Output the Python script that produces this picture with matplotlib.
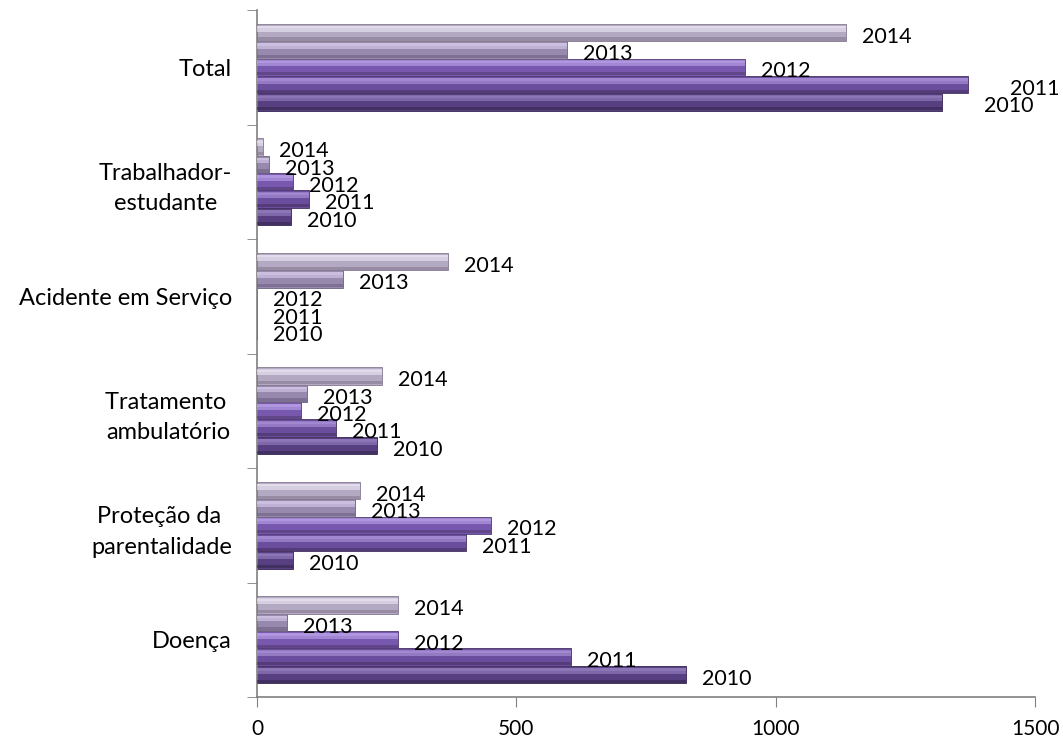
import matplotlib
matplotlib.use("Agg")
import matplotlib.pyplot as plt
import numpy as np

# categories from bottom to top
categories = ["Doença", "Proteção da \nparentalidade", "Tratamento \nambulatório",
              "Acidente em Serviço", "Trabalhador-\nestudante", "Total"]
years = ["2010", "2011", "2012", "2013", "2014"]

v2010 = [827, 70, 231, 0, 65, 1321]
v2011 = [605, 403, 152, 0, 100, 1371]
v2012 = [271, 451, 84, 0, 69, 941]
v2013 = [57, 189, 96, 166, 23, 598]
v2014 = [271, 199, 241, 368, 12, 1136]
series = [v2010, v2011, v2012, v2013, v2014]

base_colors = ["#573f82", "#6b4d9e", "#7858ae", "#9788ad", "#b3a9c2"]
light_colors = ["#9a84c4", "#b097dd", "#bea6ec", "#d9cdee", "#eee8f7"]
dark_colors = ["#35264f", "#46325f", "#523d72", "#6d6180", "#85798f"]

plt.rcParams['font.family'] = ['Lato', 'DejaVu Sans']

fig = plt.figure(figsize=(10.63, 7.47), dpi=100)
ax = fig.add_axes([0.2418, 0.0669, 0.9737 - 0.2418, 0.9866 - 0.0669])

y = np.arange(len(categories))
h = 0.152
for j, vals in enumerate(series):
    pos = y + (j - 2) * h
    ax.barh(pos, vals, height=h, color=base_colors[j], edgecolor=dark_colors[j],
            linewidth=0.6, zorder=2)
    # bevel: soft light band near top, dark band at bottom
    ax.barh(pos + h * 0.22, vals, height=h * 0.34, color=light_colors[j],
            linewidth=0, zorder=3, alpha=0.6)
    ax.barh(pos + h * 0.30, vals, height=h * 0.14, color=light_colors[j],
            linewidth=0, zorder=3, alpha=0.5)
    ax.barh(pos - h * 0.38, vals, height=h * 0.18, color=dark_colors[j],
            linewidth=0, zorder=3, alpha=0.6)
    for i, v in enumerate(vals):
        dx = 42 if (i == 5 and j < 2) else 16
        ax.annotate(years[j], xy=(v, pos[i]), xytext=(dx * 0.72, -3),
                    textcoords="offset points", va="center", ha="left",
                    fontsize=15.5, color="black", zorder=5)

ax.set_xlim(0, 1500)
ax.set_ylim(-0.5, len(categories) - 0.5)
ax.set_xticks([0, 500, 1000, 1500])
ax.tick_params(axis="x", direction="out", length=7, color="#808080",
               labelsize=15, pad=9)

ax.set_yticks(y)
ax.set_yticklabels(categories, fontsize=17)
for t in ax.get_yticklabels():
    t.set_multialignment("center")
    t.set_linespacing(1.55)
ax.tick_params(axis="y", which="major", length=0, pad=18)
ax.set_yticks(np.arange(-0.5, len(categories)), minor=True)
ax.tick_params(axis="y", which="minor", direction="out", length=7, color="#808080")

for s in ["top", "right"]:
    ax.spines[s].set_visible(False)
for s in ["left", "bottom"]:
    ax.spines[s].set_color("#808080")
    ax.spines[s].set_linewidth(1.2)

fig.savefig("out.png", dpi=100)
